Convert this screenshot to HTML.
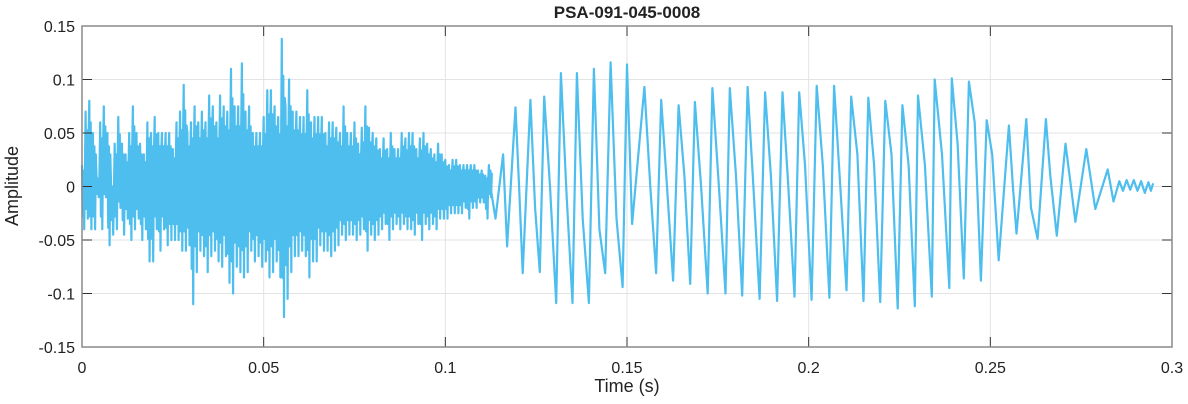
<!DOCTYPE html>
<html><head><meta charset="utf-8"><style>
body{margin:0;background:#fff;}
svg{display:block;font-family:"Liberation Sans",Arial,sans-serif;}
</style></head><body>
<svg id="chart" width="1188" height="404" xmlns="http://www.w3.org/2000/svg">
<rect width="1188" height="404" fill="#fff"/>
<text x="627" y="18" text-anchor="middle" font-size="17" font-weight="bold" fill="#222">PSA-091-045-0008</text>
<text x="627" y="392" text-anchor="middle" font-size="18" fill="#222">Time (s)</text>
<text transform="translate(18,186) rotate(-90)" text-anchor="middle" font-size="18" fill="#222">Amplitude</text>
<g id="grid"></g><g id="plot"></g><g id="axes"></g>
</svg>
<script>
// ---- data ----
const xTicks = [0, 0.05, 0.1, 0.15, 0.2, 0.25, 0.3];
const xTickLabels = ["0", "0.05", "0.1", "0.15", "0.2", "0.25", "0.3"];
const yTicks = [0.15, 0.1, 0.05, 0, -0.05, -0.1, -0.15];
const yTickLabels = ["0.15", "0.1", "0.05", "0", "-0.05", "-0.1", "-0.15"];
// unvoiced noise envelope, 1 ms bins starting at t=0
const noiseUpper = [0.02,0.07,0.08,0.05,0.01,0.06,0.075,0.05,0.0,0.04,0.065,0.04,0.03,0.05,0.075,0.05,0.04,0.03,0.06,0.05,0.065,0.05,0.05,0.05,0.05,0.035,0.06,0.07,0.095,0.05,0.06,0.075,0.06,0.07,0.06,0.085,0.075,0.06,0.085,0.075,0.07,0.11,0.075,0.075,0.115,0.07,0.075,0.05,0.05,0.05,0.065,0.09,0.09,0.075,0.065,0.138,0.075,0.1,0.07,0.07,0.065,0.065,0.09,0.06,0.065,0.065,0.065,0.05,0.06,0.06,0.055,0.05,0.075,0.05,0.05,0.06,0.04,0.055,0.075,0.055,0.05,0.045,0.035,0.045,0.035,0.05,0.035,0.035,0.05,0.045,0.05,0.05,0.035,0.045,0.05,0.04,0.035,0.03,0.04,0.03,0.025,0.02,0.025,0.025,0.02,0.02,0.02,0.02,0.02,0.015,0.015,0.01,0.02];
const noiseLower = [-0.04,-0.03,-0.04,-0.04,-0.01,-0.04,-0.01,-0.055,-0.045,-0.04,-0.02,-0.045,-0.03,-0.05,-0.04,-0.03,-0.05,-0.04,-0.07,-0.07,-0.04,-0.06,-0.04,-0.055,-0.05,-0.05,-0.05,-0.06,-0.06,-0.055,-0.11,-0.08,-0.06,-0.065,-0.08,-0.065,-0.06,-0.07,-0.075,-0.065,-0.09,-0.1,-0.075,-0.08,-0.085,-0.08,-0.06,-0.07,-0.065,-0.075,-0.07,-0.085,-0.08,-0.07,-0.085,-0.122,-0.105,-0.08,-0.065,-0.065,-0.06,-0.065,-0.085,-0.07,-0.07,-0.055,-0.06,-0.06,-0.065,-0.06,-0.055,-0.045,-0.05,-0.045,-0.045,-0.05,-0.045,-0.04,-0.06,-0.045,-0.05,-0.045,-0.04,-0.035,-0.05,-0.04,-0.035,-0.04,-0.035,-0.04,-0.04,-0.045,-0.035,-0.05,-0.035,-0.04,-0.035,-0.04,-0.03,-0.03,-0.03,-0.025,-0.025,-0.025,-0.025,-0.02,-0.03,-0.02,-0.02,-0.015,-0.015,-0.03,-0.01];
// voiced section points (time s, amplitude)
const voicedTimes = [0.1124,0.1138,0.1159,0.1170,0.1193,0.1203,0.1213,0.1234,0.1247,0.1260,0.1272,0.1288,0.1305,0.1318,0.1334,0.1350,0.1362,0.1378,0.1395,0.1409,0.1424,0.1440,0.1455,0.1471,0.1488,0.1500,0.1514,0.1548,0.1564,0.1580,0.1594,0.1610,0.1627,0.1642,0.1658,0.1674,0.1687,0.1704,0.1722,0.1735,0.1753,0.1771,0.1783,0.1800,0.1817,0.1832,0.1848,0.1865,0.1880,0.1896,0.1913,0.1928,0.1944,0.1961,0.1974,0.1990,0.2008,0.2022,0.2039,0.2057,0.2070,0.2087,0.2104,0.2117,0.2134,0.2151,0.2164,0.2180,0.2197,0.2211,0.2228,0.2245,0.2258,0.2275,0.2292,0.2301,0.2320,0.2339,0.2347,0.2367,0.2387,0.2394,0.2410,0.2427,0.2441,0.2457,0.2474,0.2490,0.2505,0.2523,0.2551,0.2562,0.2572,0.2599,0.2612,0.2630,0.2653,0.2665,0.2683,0.2707,0.2734,0.2764,0.2789,0.2823,0.2839,0.2855,0.2865,0.2875,0.2885,0.2895,0.2905,0.2915,0.2925,0.2935,0.2942,0.2948];
const voicedValues = [0.0,-0.03,0.03,-0.056,0.074,0.0,-0.081,0.081,-0.02,-0.08,0.084,0.0,-0.109,0.106,-0.01,-0.109,0.106,-0.03,-0.109,0.11,-0.04,-0.081,0.116,-0.03,-0.094,0.114,-0.035,0.093,0.0,-0.081,0.081,0.0,-0.088,0.076,0.01,-0.091,0.079,0.0,-0.1,0.092,0.0,-0.1,0.092,0.01,-0.102,0.093,0.0,-0.105,0.088,0.01,-0.107,0.088,0.0,-0.103,0.088,0.02,-0.106,0.094,0.02,-0.104,0.094,0.0,-0.097,0.084,0.03,-0.107,0.083,0.02,-0.108,0.08,0.03,-0.114,0.076,0.02,-0.112,0.085,0.02,-0.103,0.1,0.03,-0.095,0.101,0.04,-0.086,0.098,0.06,-0.088,0.062,0.03,-0.069,0.057,0.0,-0.044,0.063,-0.02,-0.049,0.063,0.01,-0.046,0.04,-0.033,0.035,-0.021,0.016,-0.014,0.005,-0.004,0.006,-0.003,0.006,-0.004,0.005,-0.006,0.004,-0.004,0.003];
// ---- axes ----
const L=82,R=1172,T=26,B=347;
const xs = t => L + (t-0)/(0.3)*(R-L);
const ys = v => T + (0.15-v)/(0.3)*(B-T);
const NS="http://www.w3.org/2000/svg";
function mk(tag, parent, attrs){const e=document.createElementNS(NS,tag);for(const k in attrs)e.setAttribute(k,attrs[k]);parent.appendChild(e);return e;}
const grid=document.getElementById('grid'), plot=document.getElementById('plot'), axes=document.getElementById('axes');
xTicks.forEach((t,i)=>{
  const g=mk('line',grid,{x1:xs(t),x2:xs(t),y1:T,y2:B,stroke:'#e3e3e3','stroke-width':1});
  
  
  mk('line',axes,{x1:xs(t),x2:xs(t),y1:B,y2:B-10,stroke:'#333','stroke-width':1});
  mk('line',axes,{x1:xs(t),x2:xs(t),y1:T,y2:T+10,stroke:'#333','stroke-width':1});
  const lb=mk('text',axes,{x:xs(t),y:373,'text-anchor':'middle','font-size':16,fill:'#222'});
  lb.textContent=xTickLabels[i];
  
  
});
yTicks.forEach((v,i)=>{
  const g=mk('line',grid,{x1:L,x2:R,y1:ys(v),y2:ys(v),stroke:'#e3e3e3','stroke-width':1});
  
  
  mk('line',axes,{x1:L,x2:L+10,y1:ys(v),y2:ys(v),stroke:'#333','stroke-width':1});
  mk('line',axes,{x1:R,x2:R-10,y1:ys(v),y2:ys(v),stroke:'#333','stroke-width':1});
  const lb=mk('text',axes,{x:75,y:ys(v)+6,'text-anchor':'end','font-size':16,fill:'#222'});
  lb.textContent=yTickLabels[i];
  
  
});
const box=mk('rect',axes,{x:L,y:T,width:R-L,height:B-T,fill:'none',stroke:'#8a8a8a','stroke-width':1.5});


// ---- series ----
let pts=[];
for(let i=0;i<noiseUpper.length;i++){
  const t=i*0.001;
  pts.push([xs(t),ys(noiseUpper[i])]);
  pts.push([xs(t+0.0002),ys(noiseLower[i]*0.7)]);
  pts.push([xs(t+0.0004),ys(noiseUpper[i]*0.75)]);
  pts.push([xs(t+0.0006),ys(noiseLower[i])]);
  pts.push([xs(t+0.0008),ys(noiseUpper[i]*0.6)]);
}
for(let i=0;i<voicedTimes.length;i++) pts.push([xs(voicedTimes[i]),ys(voicedValues[i])]);
const wave=mk('polyline',plot,{points:pts.map(p=>p[0].toFixed(1)+','+p[1].toFixed(1)).join(' '),fill:'none',stroke:'#4DBEEE','stroke-width':2.2,'stroke-linejoin':'round'});


</script>
</body></html>
